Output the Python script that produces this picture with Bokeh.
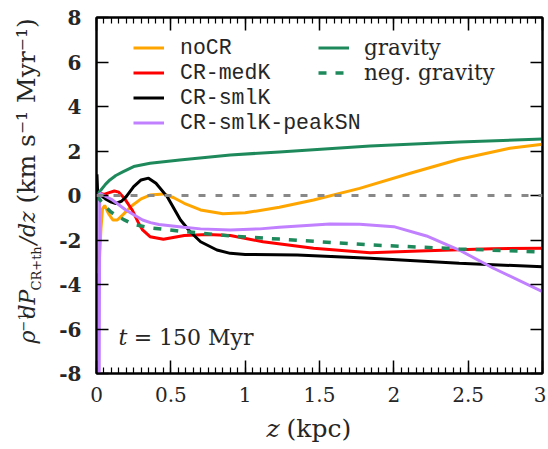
import math
from bokeh.plotting import figure
from bokeh.layouts import row, column
from bokeh.models import (Range1d, FixedTicker, LinearAxis, Legend, LegendItem,
                          Label, Span, CustomJSTickFormatter)
from bokeh.embed import file_html
from bokeh.resources import INLINE

# ---------------- data ----------------
z_nocr = [0.015, 0.03, 0.04, 0.055, 0.08, 0.11, 0.14, 0.18, 0.24, 0.30, 0.36, 0.45,
          0.52, 0.59, 0.70, 0.85, 1.00, 1.23, 1.46, 1.77, 2.11, 2.44, 2.78, 3.00]
y_nocr = [-3.5, -1.5, -0.6, -0.45, -0.8, -1.1, -1.1, -0.85, -0.45, -0.15, 0.02, 0.07,
          -0.1, -0.35, -0.65, -0.82, -0.78, -0.53, -0.2, 0.32, 1.0, 1.63, 2.12, 2.3]

z_medk = [0.0, 0.025, 0.05, 0.08, 0.12, 0.15, 0.19, 0.24, 0.28, 0.31, 0.36, 0.45,
          0.59, 0.75, 0.90, 1.12, 1.46, 1.84, 2.22, 2.66, 3.00]
y_medk = [0.0, 0.1, 0.05, 0.12, 0.2, 0.15, -0.15, -0.65, -1.2, -1.55, -1.85, -1.97,
          -1.8, -1.75, -1.8, -2.08, -2.37, -2.57, -2.48, -2.39, -2.37]

z_smlk = [0.003, 0.008, 0.03, 0.06, 0.10, 0.13, 0.17, 0.20, 0.25, 0.30, 0.35, 0.40,
          0.475, 0.565, 0.63, 0.70, 0.81, 0.90, 1.00, 1.35, 1.84, 2.44, 3.00]
y_smlk = [0.95, 0.1, 0.0, -0.15, -0.3, -0.36, -0.25, -0.05, 0.4, 0.7, 0.78, 0.55,
          -0.05, -1.1, -1.63, -2.08, -2.45, -2.6, -2.65, -2.67, -2.82, -3.05, -3.2]

z_peak = [0.018, 0.022, 0.05, 0.107, 0.197, 0.31, 0.363, 0.42, 0.587, 0.70, 0.90,
          1.10, 1.23, 1.57, 1.77, 2.00, 2.22, 2.44, 2.67, 3.00]
y_peak = [-8.6, 0.1, 0.0, -0.2, -0.65, -1.1, -1.22, -1.3, -1.43, -1.5, -1.55,
          -1.5, -1.43, -1.28, -1.29, -1.4, -1.82, -2.45, -3.27, -4.32]

z_grav = [0.0, 0.01, 0.03, 0.06, 0.09, 0.13, 0.18, 0.25, 0.36, 0.56, 0.90, 1.23,
          1.84, 2.44, 3.00]
y_grav = [0.0, 0.08, 0.25, 0.5, 0.7, 0.9, 1.07, 1.3, 1.45, 1.6, 1.82, 1.96,
          2.22, 2.4, 2.54]
y_neg_grav = [0.0, -0.08, -0.25, -0.5, -0.7, -0.9, -1.07, -1.3, -1.45, -1.6, -1.82, -1.96,
              -2.22, -2.4, -2.54]

x_ticks = [0, 0.5, 1, 1.5, 2, 2.5, 3]
x_tick_labels = ["0", "0.5", "1", "1.5", "2", "2.5", "3"]
y_ticks = [-8, -6, -4, -2, 0, 2, 4, 6, 8]
y_tick_labels = ["-8", "-6", "-4", "-2", "0", "2", "4", "6", "8"]
x_minor = [i * 0.05 for i in range(61)]

# ---------------- styles ----------------
C_ORANGE = "#FFA500"
C_RED = "#FF0000"
C_BLACK = "#000000"
C_PURPLE = "#C080FF"
C_GREEN = "#1E8A5C"
C_GRAY = "#888888"
TXT = "#262626"
SERIF = "DejaVu Serif"
MONO = "Liberation Mono"
LW = 3

YW = 50          # width of the strip holding the y-axis title
MW = 496         # main figure width
MH = 410         # main figure height
XH = 37          # height of the strip holding the x-axis title

p = figure(width=MW, height=MH, output_backend="svg", toolbar_location=None,
           title=None, x_range=Range1d(0, 3), y_range=Range1d(-8, 8),
           min_border_left=46, min_border_right=4, min_border_top=17,
           min_border_bottom=37)
p.grid.visible = False
p.outline_line_color = "black"
p.outline_line_width = 2

xa = p.xaxis[0]
xa.ticker = FixedTicker(ticks=x_ticks, minor_ticks=x_minor)
xa.major_label_overrides = {t: s for t, s in zip(x_ticks, x_tick_labels)}
ya = p.yaxis[0]
ya.ticker = FixedTicker(ticks=y_ticks, minor_ticks=[])
ya.major_label_overrides = {t: s for t, s in zip(y_ticks, y_tick_labels)}

top = LinearAxis(ticker=FixedTicker(ticks=x_ticks, minor_ticks=x_minor),
                 formatter=CustomJSTickFormatter(code="return ''"))
right = LinearAxis(ticker=FixedTicker(ticks=y_ticks, minor_ticks=[]),
                   formatter=CustomJSTickFormatter(code="return ''"))
p.add_layout(top, "above")
p.add_layout(right, "right")

for ax in (xa, top):
    ax.major_tick_in = 13
    ax.major_tick_out = 0
    ax.minor_tick_in = 6
    ax.minor_tick_out = 0
    ax.major_tick_line_width = 1.5
    ax.minor_tick_line_width = 1.2
    ax.axis_line_width = 2
for ax in (ya, right):
    ax.major_tick_in = 12
    ax.major_tick_out = 0
    ax.minor_tick_line_color = None
    ax.major_tick_line_width = 1.5
    ax.axis_line_width = 2
for ax in (top, right):
    ax.major_label_text_font_size = "1px"
    ax.major_label_standoff = 0

xa.major_label_text_font = SERIF
xa.major_label_text_font_size = "20px"
xa.major_label_text_color = TXT
xa.major_label_standoff = 13
ya.major_label_text_font = SERIF
ya.major_label_text_font_size = "20px"
ya.major_label_text_font_style = "bold"
ya.major_label_text_color = TXT
ya.major_label_standoff = 15

# ---------------- lines ----------------
p.add_layout(Span(location=0, dimension="width", line_color=C_GRAY, line_width=LW,
                  line_dash="7 10"))
r_nocr = p.line(z_nocr, y_nocr, line_color=C_ORANGE, line_width=LW)
r_medk = p.line(z_medk, y_medk, line_color=C_RED, line_width=LW)
r_smlk = p.line(z_smlk, y_smlk, line_color=C_BLACK, line_width=LW)
r_grav = p.line(z_grav, y_grav, line_color=C_GREEN, line_width=LW)
r_peak = p.line(z_peak, y_peak, line_color=C_PURPLE, line_width=LW)
r_neg = p.line(z_grav, y_neg_grav, line_color=C_GREEN, line_width=LW + 0.5,
               line_dash="8 9")

# ---------------- legends ----------------
def make_legend(items, loc, font, standoff):
    return Legend(items=items, location=loc, orientation="vertical",
                  glyph_width=31, glyph_height=25, label_height=25,
                  label_standoff=standoff, spacing=0, padding=0, margin=0,
                  border_line_color=None, background_fill_alpha=0,
                  label_text_font=font, label_text_font_size="21.5px",
                  label_text_color=TXT)

leg1 = make_legend([LegendItem(label="noCR", renderers=[r_nocr]),
                    LegendItem(label="CR-medK", renderers=[r_medk]),
                    LegendItem(label="CR-smlK", renderers=[r_smlk]),
                    LegendItem(label="CR-smlK-peakSN", renderers=[r_peak])],
                   (37, 238), MONO, 16)
leg2 = make_legend([LegendItem(label="gravity", renderers=[r_grav]),
                    LegendItem(label="neg. gravity", renderers=[r_neg])],
                   (222, 288), SERIF, 15)
p.add_layout(leg1)
p.add_layout(leg2)

def lab(fig, x, y, text, size, style="normal", angle=0.0):
    fig.add_layout(Label(x=x, y=y, x_units="data", y_units="data", text=text,
                         text_font=SERIF, text_font_size=size,
                         text_font_style=style, text_color=TXT, angle=angle,
                         text_align="left", text_baseline="middle"))

# t = 150 Myr (inside the frame; label centre line)
lab(p, 0.148, -6.38, "t", "22px", "italic")
lab(p, 0.25, -6.38, "= 150 Myr", "22px")

# ---------------- title strips (pixel coordinates) ----------------
def strip(w, h, xr, yr):
    f = figure(width=w, height=h, output_backend="svg", toolbar_location=None,
               title=None, x_range=xr, y_range=yr,
               x_axis_type=None, y_axis_type=None, min_border=0)
    f.grid.visible = False
    f.outline_line_color = None
    return f

# y-axis title strip: data units = page pixels
yfig = strip(YW, MH + XH, Range1d(0, YW), Range1d(MH + XH, 0))
ang = math.pi / 2
lab(yfig, 27.4, 343, "ρ", "22px", "italic", ang)
lab(yfig, 22.5, 331, "−1", "13px", "normal", ang)
lab(yfig, 27.4, 318, "dP", "22px", "italic", ang)
lab(yfig, 35.5, 290, "CR+th", "13px", "normal", ang)
lab(yfig, 27.4, 244, "/dz", "22px", "italic", ang)
lab(yfig, 26.4, 203, "(km s⁻¹ Myr⁻¹)", "25px", "normal", ang)

# x-axis title strip: its frame lines up with the main frame (page x 96..542)
xfig = strip(MW, XH, Range1d(96, 542), Range1d(MH + XH, MH))
lab(xfig, 266, 428, "z", "25px", "italic")
lab(xfig, 286, 428, "(kpc)", "25px")

layout = row(yfig, column(p, xfig, spacing=0), spacing=0)
open("out.html", "w").write(file_html(layout, INLINE))
